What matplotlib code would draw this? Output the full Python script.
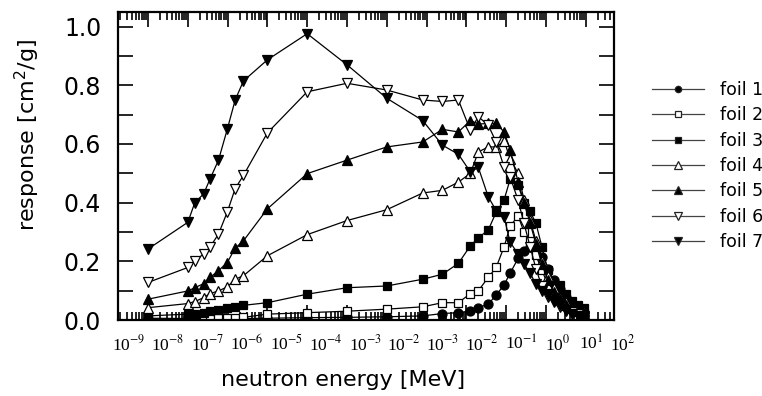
import numpy as np
import matplotlib
matplotlib.use("Agg")
import matplotlib.pyplot as plt
from matplotlib.ticker import LogLocator, NullFormatter, MultipleLocator, FormatStrFormatter

plt.rcParams['font.family'] = ['DejaVu Sans']
plt.rcParams['mathtext.fontset'] = 'dejavusans'

# ---- data (neutron energy in MeV) ----
energy = [1.0e-9, 1.0e-8, 1.5e-8, 2.5e-8, 3.6e-8, 5.9e-8, 9.8e-8, 1.55e-7, 2.5e-7,
          1.0e-6, 1.0e-5, 1.0e-4, 1.0e-3, 8.0e-3, 2.5e-2, 6.3e-2, 0.126, 0.20,
          0.355, 0.56, 0.89, 1.26, 2.0, 2.8, 4.0, 5.6, 7.9, 11.2, 15.8, 22.4,
          31.6, 44.7, 63.0, 89.0]

foil1 = [0.004, 0.003, 0.003, 0.004, 0.004, 0.004, 0.005, 0.005, 0.005,
         0.006, 0.008, 0.009, 0.011, 0.014, 0.022, 0.025, 0.031, 0.042,
         0.054, 0.085, 0.120, 0.160, 0.210, 0.235, 0.250, 0.250, 0.215, 0.175,
         0.135, 0.105, 0.078, 0.050, 0.035, 0.022]
foil2 = [0.006, 0.005, 0.005, 0.005, 0.006, 0.006, 0.007, 0.008, 0.009,
         0.020, 0.025, 0.030, 0.037, 0.045, 0.059, 0.059, 0.090, 0.100,
         0.145, 0.179, 0.250, 0.320, 0.355, 0.300, 0.270, 0.220, 0.170, 0.120,
         0.085, 0.065, 0.050, 0.040, 0.030, 0.025]
foil3 = [0.014, 0.020, 0.022, 0.025, 0.031, 0.034, 0.040, 0.044, 0.050,
         0.059, 0.088, 0.110, 0.116, 0.139, 0.156, 0.193, 0.253, 0.280,
         0.307, 0.367, 0.410, 0.480, 0.460, 0.400, 0.370, 0.330, 0.250, 0.170,
         0.130, 0.120, 0.090, 0.065, 0.050, 0.040]
foil4 = [0.042, 0.056, 0.063, 0.076, 0.090, 0.099, 0.113, 0.139, 0.151,
         0.219, 0.291, 0.339, 0.376, 0.433, 0.442, 0.470, 0.500, 0.573,
         0.590, 0.590, 0.610, 0.550, 0.500, 0.410, 0.340, 0.270, 0.200, 0.150,
         0.110, 0.080, 0.060, 0.045, 0.035, 0.030]
foil5 = [0.071, 0.099, 0.110, 0.124, 0.145, 0.168, 0.196, 0.245, 0.270,
         0.379, 0.499, 0.545, 0.590, 0.607, 0.650, 0.641, 0.680, 0.668,
         0.670, 0.670, 0.641, 0.580, 0.470, 0.400, 0.330, 0.260, 0.190, 0.135,
         0.095, 0.070, 0.050, 0.040, 0.030, 0.025]
foil6 = [0.128, 0.179, 0.202, 0.225, 0.248, 0.293, 0.368, 0.448, 0.493,
         0.638, 0.778, 0.807, 0.784, 0.750, 0.745, 0.750, 0.647, 0.693,
         0.664, 0.607, 0.520, 0.487, 0.408, 0.330, 0.250, 0.175, 0.115, 0.080,
         0.060, 0.045, 0.035, 0.028, 0.020, 0.015]
foil7 = [0.242, 0.333, 0.400, 0.430, 0.480, 0.545, 0.650, 0.750, 0.815,
         0.887, 0.976, 0.870, 0.756, 0.680, 0.596, 0.565, 0.505, 0.520,
         0.420, 0.373, 0.350, 0.265, 0.225, 0.190, 0.160, 0.122, 0.100, 0.085,
         0.065, 0.050, 0.032, 0.022, 0.013, 0.010]

labels = ["foil 1", "foil 2", "foil 3", "foil 4", "foil 5", "foil 6", "foil 7"]
series = [foil1, foil2, foil3, foil4, foil5, foil6, foil7]

xtick_texts = ["10$^{-9}$", "10$^{-8}$", "10$^{-7}$", "10$^{-6}$", "10$^{-5}$",
               "10$^{-4}$", "10$^{-3}$", "10$^{-2}$", "10$^{-3}$", "10$^{-2}$",
               "10$^{-1}$", "10$^{0}$", "10$^{1}$", "10$^{2}$"]

# ---- styles ----
styles = [
    dict(marker='o', mfc='black', ms=6.5),
    dict(marker='s', mfc='white', ms=6.0),
    dict(marker='s', mfc='black', ms=6.0),
    dict(marker='^', mfc='white', ms=7.5),
    dict(marker='^', mfc='black', ms=7.5),
    dict(marker='v', mfc='white', ms=7.5),
    dict(marker='v', mfc='black', ms=7.5),
]

W, H = 762, 396
fig = plt.figure(figsize=(W / 100, H / 100), dpi=100)
L, R, T, B = 118, 614, 12, 320
ax = fig.add_axes([L / W, 1 - B / H, (R - L) / W, (B - T) / H])

for y, lab, st in zip(series, labels, styles):
    ax.plot(energy, y, color='black', lw=0.9, mec='black', mew=0.9,
            label=lab, **st)

ax.set_xscale('log')
ax.set_xlim(1.76e-10, 513)
ax.set_ylim(0, 1.05)

ax.xaxis.set_major_locator(LogLocator(base=10, numticks=40))
ax.xaxis.set_minor_locator(LogLocator(base=10, subs=np.arange(2, 10), numticks=40))
ax.xaxis.set_major_formatter(NullFormatter())
ax.xaxis.set_minor_formatter(NullFormatter())
ax.yaxis.set_major_locator(MultipleLocator(0.2))
ax.yaxis.set_minor_locator(MultipleLocator(0.1))
ax.yaxis.set_major_formatter(FormatStrFormatter('%.1f'))

ax.tick_params(which='both', direction='in', top=True, right=True, width=1.2)
ax.tick_params(axis='x', which='major', length=11)
ax.tick_params(axis='x', which='minor', length=6)
ax.tick_params(axis='y', which='both', length=11)
ax.tick_params(axis='y', which='major', labelsize=17, pad=12)
for s in ax.spines.values():
    s.set_linewidth(1.6)

# misplaced bottom tick labels, as in the original figure
centers = [129, 168, 208, 247, 287, 326, 366, 404, 443, 482, 521, 558, 591, 623]
for c, t in zip(centers, xtick_texts):
    ax.text((c - L) / (R - L), -(344 - B) / (B - T), t, transform=ax.transAxes,
            ha='center', va='center', fontsize=12.5, family='Liberation Serif',
            math_fontfamily='stix')

ax.set_xlabel("neutron energy [MeV]", fontsize=16)
ax.xaxis.set_label_coords((343 - L) / (R - L), -(370 - B) / (B - T))
ax.set_ylabel("response [cm$^2$/g]", fontsize=16)
ax.yaxis.set_label_coords((42 - L) / (R - L), (B - 135) / (B - T))

leg = fig.legend(loc='center left', bbox_to_anchor=(652 / W, 1 - 166 / H),
                 frameon=False, fontsize=12.5, handlelength=3.0, handletextpad=0.9,
                 labelspacing=0.42, borderpad=0, borderaxespad=0, markerscale=0.7)
for ln in leg.get_lines():
    ln.set_color('#444444')
    ln.set_markeredgecolor('#222222')

fig.savefig("out.png", dpi=100)
